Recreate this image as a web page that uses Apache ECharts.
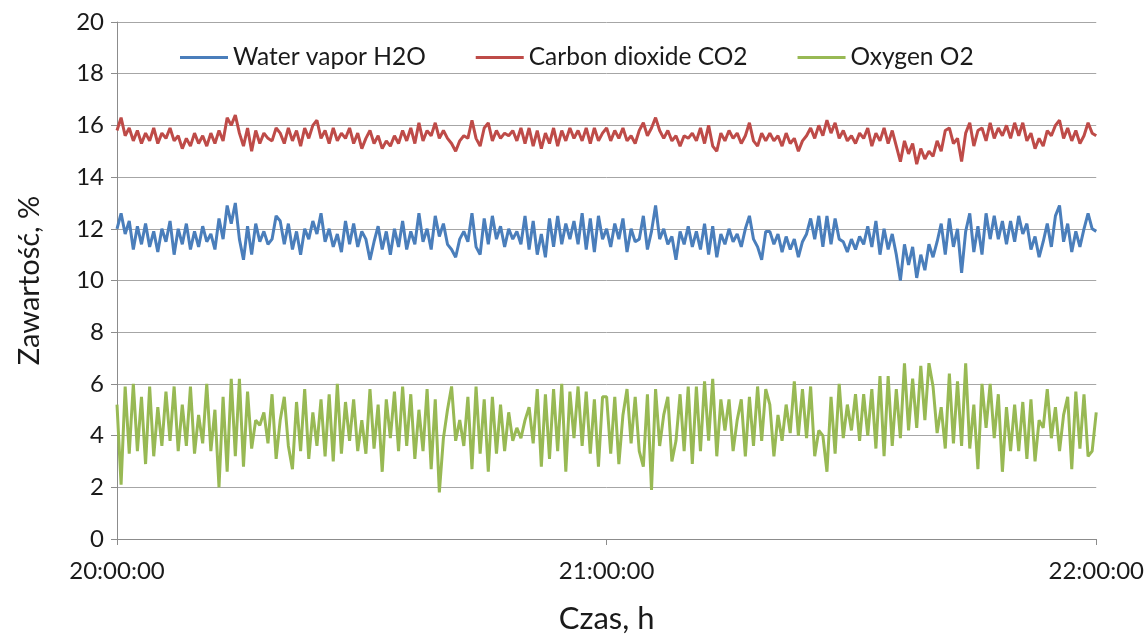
<!DOCTYPE html>
<html>
<head>
<meta charset="utf-8">
<script src="https://cdn.jsdelivr.net/npm/echarts@6/dist/echarts.min.js"></script>
<style>
html,body{margin:0;padding:0;background:#fff;}
#chart{width:1147px;height:639px;}
</style>
</head>
<body>
<div id="chart"></div>
<script>
// Series names
const seriesNames = ['Water vapor H2O', 'Carbon dioxide CO2', 'Oxygen O2'];
// Y tick range
const yMin = 0, yMax = 20, yStep = 2;
// X tick labels shown
const xTickLabels = ['20:00:00', '21:00:00', '22:00:00'];
// Sampling: every 30 s from 20:00:00 to 22:00:00 (241 samples)
const startSeconds = 20 * 3600;
const stepSeconds = 30;

// Water vapor H2O, %
const h2o = [
  12.0, 12.6, 11.8, 12.3, 11.2, 12.1, 11.4, 12.2, 11.3, 11.9, 11.1, 12.0, 11.5, 12.3, 11.0, 12.0, 11.4, 12.2, 11.2, 11.9,
  11.3, 12.1, 11.5, 11.8, 11.2, 12.4, 11.6, 12.9, 12.2, 13.0, 11.6, 10.8, 12.1, 11.0, 12.2, 11.5, 11.9, 11.4, 11.6, 12.5,
  12.3, 11.4, 12.2, 11.2, 11.9, 11.0, 12.0, 11.6, 12.3, 11.8, 12.6, 11.5, 12.0, 11.3, 11.8, 11.1, 12.3, 11.4, 12.2, 11.3,
  11.9, 11.6, 10.8, 11.5, 12.1, 11.2, 11.9, 11.0, 12.0, 11.3, 12.3, 11.2, 11.9, 11.4, 12.6, 11.5, 12.0, 11.2, 12.5, 11.7,
  12.2, 11.4, 11.2, 10.9, 11.6, 11.9, 11.5, 12.6, 11.3, 11.0, 12.4, 11.4, 12.5, 11.6, 12.1, 11.3, 12.0, 11.6, 11.9, 11.4,
  12.5, 11.2, 12.3, 11.0, 11.8, 10.9, 12.4, 11.3, 12.5, 11.4, 12.2, 11.6, 12.3, 11.4, 12.6, 11.2, 12.4, 11.1, 12.5, 11.6,
  12.0, 11.3, 12.2, 11.6, 12.4, 11.1, 12.0, 11.5, 11.6, 12.5, 11.2, 11.9, 12.9, 11.6, 12.0, 11.4, 11.7, 10.8, 11.9, 11.4,
  12.1, 11.3, 11.9, 11.2, 12.2, 11.0, 12.1, 10.9, 11.8, 11.4, 12.0, 11.5, 11.8, 11.3, 12.0, 12.5, 11.6, 11.3, 10.8, 11.9,
  11.9, 11.4, 11.8, 11.1, 11.7, 11.2, 11.6, 10.9, 11.5, 11.8, 12.4, 11.6, 12.5, 11.3, 12.5, 11.4, 12.4, 11.6, 11.5, 11.1,
  11.6, 11.2, 11.7, 11.4, 12.1, 11.3, 12.3, 11.0, 12.0, 11.2, 11.8, 11.0, 10.0, 11.4, 10.6, 11.3, 10.1, 11.0, 10.4, 11.4,
  10.9, 11.5, 12.2, 11.0, 12.4, 11.3, 12.0, 10.3, 11.9, 12.6, 11.1, 12.1, 11.0, 12.6, 11.6, 12.5, 11.6, 12.3, 11.4, 12.3,
  11.5, 12.5, 11.8, 12.2, 11.2, 11.7, 10.9, 11.5, 12.2, 11.3, 12.5, 12.9, 11.5, 12.2, 11.1, 11.9, 11.3, 12.0, 12.6, 12.0,
  11.9
];

// Carbon dioxide CO2, %
const co2 = [
  15.8, 16.3, 15.6, 15.9, 15.4, 15.8, 15.3, 15.7, 15.4, 15.9, 15.3, 15.7, 15.5, 15.9, 15.4, 15.6, 15.1, 15.5, 15.2, 15.7,
  15.3, 15.6, 15.2, 15.7, 15.3, 15.8, 15.4, 16.3, 16.0, 16.4, 15.7, 15.2, 15.9, 15.0, 15.8, 15.3, 15.7, 15.5, 15.4, 15.9,
  15.7, 15.3, 15.9, 15.4, 15.8, 15.2, 15.9, 15.5, 16.0, 16.2, 15.5, 15.8, 15.3, 15.9, 15.4, 15.7, 15.5, 15.9, 15.3, 15.7,
  15.1, 15.5, 15.8, 15.3, 15.6, 15.1, 15.4, 15.2, 15.6, 15.3, 15.8, 15.4, 15.9, 15.3, 16.1, 15.4, 15.8, 15.6, 16.1, 15.5,
  15.8, 15.5, 15.3, 15.0, 15.4, 15.6, 15.5, 16.2, 15.5, 15.2, 15.9, 16.1, 15.4, 15.8, 15.5, 15.7, 15.6, 15.8, 15.4, 15.9,
  15.3, 15.9, 15.2, 15.8, 15.1, 15.7, 15.3, 15.9, 15.2, 15.8, 15.4, 15.9, 15.5, 15.8, 15.4, 15.9, 15.3, 15.9, 15.4, 15.7,
  15.9, 15.4, 15.8, 15.5, 15.9, 15.4, 15.6, 15.3, 15.8, 16.1, 15.6, 15.9, 16.3, 15.8, 15.5, 15.8, 15.4, 15.6, 15.2, 15.6,
  15.5, 15.7, 15.4, 15.9, 15.3, 16.0, 15.2, 15.0, 15.7, 15.4, 15.8, 15.5, 15.7, 15.3, 15.6, 16.1, 15.4, 15.2, 15.7, 15.4,
  15.7, 15.4, 15.6, 15.2, 15.7, 15.3, 15.5, 15.0, 15.4, 15.6, 15.9, 15.5, 16.0, 15.6, 16.2, 15.7, 16.1, 15.5, 15.8, 15.4,
  15.6, 15.3, 15.7, 15.5, 15.9, 15.2, 15.7, 15.4, 15.9, 15.3, 15.8, 15.2, 14.6, 15.4, 14.9, 15.3, 14.5, 15.1, 14.7, 15.0,
  14.8, 15.4, 15.0, 15.8, 15.9, 15.3, 15.5, 14.6, 15.7, 16.1, 15.2, 15.8, 15.9, 15.4, 16.1, 15.5, 15.9, 15.6, 16.0, 15.5,
  16.1, 15.6, 16.1, 15.4, 15.7, 15.1, 15.5, 15.2, 15.8, 15.6, 16.0, 16.2, 15.5, 15.9, 15.4, 15.8, 15.3, 15.6, 16.1, 15.7,
  15.6
];

// Oxygen O2, %
const o2 = [
  5.2, 2.1, 5.9, 3.3, 6.0, 3.4, 5.5, 2.9, 5.9, 3.2, 5.1, 3.6, 5.7, 3.8, 5.9, 3.4, 5.2, 3.6, 5.9, 3.3,
  4.8, 3.7, 6.0, 3.4, 5.0, 2.0, 5.5, 2.6, 6.2, 3.2, 6.2, 2.8, 5.7, 3.5, 4.6, 4.4, 4.9, 3.7, 5.6, 3.1,
  4.6, 5.5, 3.6, 2.7, 5.3, 3.4, 5.8, 3.1, 4.9, 3.6, 5.4, 3.2, 5.6, 3.0, 6.0, 3.3, 5.3, 3.8, 5.4, 3.4,
  4.6, 3.3, 5.8, 3.5, 5.2, 2.6, 5.4, 3.9, 5.7, 3.4, 5.9, 3.6, 5.6, 3.1, 5.0, 3.4, 5.8, 2.7, 5.4, 1.8,
  3.9, 5.0, 5.9, 3.8, 4.6, 3.6, 5.5, 2.7, 5.9, 3.3, 5.4, 2.6, 5.5, 3.3, 5.2, 3.4, 4.9, 3.8, 4.3, 3.9,
  4.6, 5.1, 3.7, 5.8, 2.8, 5.6, 3.1, 5.8, 3.4, 6.0, 2.6, 5.7, 3.9, 5.9, 3.6, 5.7, 3.3, 5.4, 2.8, 5.5,
  5.5, 3.3, 5.5, 2.9, 4.8, 5.8, 3.7, 5.5, 3.4, 2.8, 5.6, 1.9, 5.8, 3.6, 4.8, 5.5, 3.0, 3.8, 5.6, 3.4,
  5.9, 2.9, 5.9, 3.4, 6.1, 3.8, 6.2, 3.2, 5.4, 4.2, 5.4, 3.4, 4.6, 5.4, 3.2, 5.5, 3.6, 5.9, 3.8, 5.8,
  5.2, 3.2, 4.8, 3.8, 5.2, 4.1, 6.1, 4.0, 5.8, 3.9, 5.9, 3.2, 4.2, 4.0, 2.6, 5.5, 3.3, 6.0, 3.9, 5.2,
  4.2, 5.6, 3.8, 5.6, 4.0, 5.8, 3.5, 6.3, 3.2, 6.3, 3.6, 5.8, 3.9, 6.8, 4.2, 6.2, 4.3, 6.7, 4.6, 6.8,
  5.9, 4.1, 5.1, 3.5, 6.4, 3.7, 6.1, 3.6, 6.8, 3.5, 5.2, 2.7, 6.0, 4.3, 6.0, 3.9, 5.6, 2.6, 5.1, 3.4,
  5.2, 3.4, 5.3, 3.1, 5.4, 3.0, 4.6, 4.3, 5.8, 3.9, 5.1, 3.4, 4.8, 5.5, 2.7, 5.7, 3.5, 5.6, 3.2, 3.4,
  4.9
];

const colors = ['#4a7ebb', '#be4b48', '#98b954'];
const FONT = 'Lato, "Liberation Sans", sans-serif';

function pad(n) { return (n < 10 ? '0' : '') + n; }
const times = h2o.map(function (_, i) {
  const s = startSeconds + i * stepSeconds;
  return pad(Math.floor(s / 3600)) + ':' + pad(Math.floor(s / 60) % 60) + ':' + pad(s % 60);
});
const shown = function (idx, val) { return xTickLabels.indexOf(val) !== -1; };

const chart = echarts.init(document.getElementById('chart'), null, { renderer: 'canvas' });
chart.setOption({
  animation: false,
  backgroundColor: '#ffffff',
  color: colors,
  textStyle: { fontFamily: FONT },
  grid: { left: 117, right: 49, top: 22, bottom: 92, containLabel: false },
  legend: {
    data: seriesNames,
    left: 180, top: 45,
    icon: 'rect', itemWidth: 48, itemHeight: 3, itemGap: 50,
    padding: 0,
    textStyle: { fontFamily: FONT, fontSize: 24.5, color: '#1a1a1a', padding: [0, 0, 0, 0] }
  },
  xAxis: {
    type: 'category',
    data: times,
    boundaryGap: false,
    name: 'Czas, h',
    nameLocation: 'middle',
    nameGap: 64,
    nameTextStyle: { fontFamily: FONT, fontSize: 31, color: '#1a1a1a' },
    axisLine: { lineStyle: { color: '#8c8c8c', width: 1 } },
    axisTick: { show: true, interval: shown, length: 6, lineStyle: { color: '#8c8c8c' } },
    axisLabel: { interval: shown, margin: 20, fontFamily: FONT, fontSize: 24, color: '#1a1a1a' },
    splitLine: { show: false }
  },
  yAxis: {
    type: 'value',
    min: yMin, max: yMax, interval: yStep,
    name: 'Zawartość, %',
    nameLocation: 'middle',
    nameGap: 73,
    nameTextStyle: { fontFamily: FONT, fontSize: 29, color: '#1a1a1a' },
    axisLine: { show: true, lineStyle: { color: '#8c8c8c', width: 1 } },
    axisTick: { show: true, length: 6, lineStyle: { color: '#8c8c8c' } },
    axisLabel: { margin: 13, fontFamily: FONT, fontSize: 24, color: '#1a1a1a' },
    splitLine: { show: true, lineStyle: { color: '#a6a6a6', width: 1 } }
  },
  series: [
    { name: seriesNames[0], type: 'line', data: h2o, showSymbol: false, symbol: 'none', lineStyle: { width: 3 } },
    { name: seriesNames[1], type: 'line', data: co2, showSymbol: false, symbol: 'none', lineStyle: { width: 3 } },
    { name: seriesNames[2], type: 'line', data: o2, showSymbol: false, symbol: 'none', lineStyle: { width: 3 } }
  ]
});
</script>
</body>
</html>
